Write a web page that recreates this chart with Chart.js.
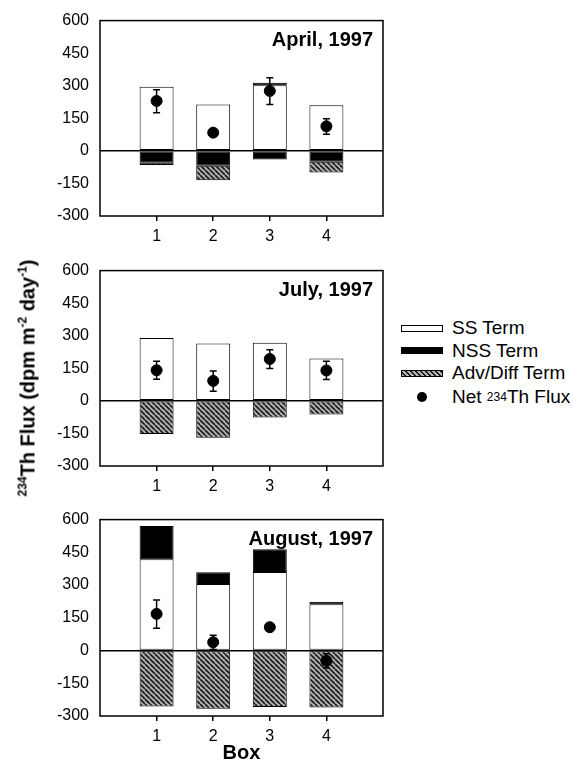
<!DOCTYPE html>
<html>
<head>
<meta charset="utf-8">
<script src="https://cdn.jsdelivr.net/npm/chart.js@4"></script>
<style>
  body { margin: 0; background: #fff; font-family: "Liberation Sans", Arial, sans-serif; color: #000; }
  #wrap { position: relative; width: 573px; height: 763px; overflow: hidden; }
  canvas { position: absolute; left: 0; }
  #ylab { position: absolute; left: 28px; top: 378px; transform: translate(-50%, -50%) rotate(-90deg);
          font-weight: bold; font-size: 20px; white-space: nowrap; }
  sup { font-size: 12px; vertical-align: 8px; line-height: 0; }
  #legend { position: absolute; left: 401px; top: 317px; font-size: 19px; }
  .row { display: flex; align-items: center; height: 22.5px; white-space: nowrap; }
  .sw { width: 42px; height: 7px; box-sizing: border-box; border: 1px solid #000; margin-right: 9px; flex: none; }
  .dotcell { width: 42px; margin-right: 9px; display: flex; justify-content: center; flex: none; }
  .dot { width: 10px; height: 10px; border-radius: 50%; background: #000; }
</style>
</head>
<body>
<div id="wrap">
  <canvas id="c1" width="390" height="250" style="top:0px"></canvas>
  <canvas id="c2" width="390" height="250" style="top:250px"></canvas>
  <canvas id="c3" width="390" height="264" style="top:499px"></canvas>
  <div id="ylab"><sup>234</sup>Th Flux (dpm m<sup>-2</sup> day<sup>-1</sup>)</div>
  <div id="legend">
    <div class="row"><div class="sw" style="background:#fff"></div>SS Term</div>
    <div class="row"><div class="sw" style="background:#000"></div>NSS Term</div>
    <div class="row"><div class="sw" style="background:repeating-linear-gradient(45deg,#b0b0b0 0 2px,#1a1a1a 2px 3.5px)"></div>Adv/Diff Term</div>
    <div class="row" style="height:25px"><div class="dotcell"><div class="dot"></div></div>Net&nbsp;<sup>234</sup>Th Flux</div>
  </div>
</div>
<script>
const boxes = [1, 2, 3, 4];
const yTickValues = [-300, -150, 0, 150, 300, 450, 600];
const panelTitles = ['April, 1997', 'July, 1997', 'August, 1997'];

// April
const aprilSS = [295, 213, 302, 210];
const aprilNSS = [-55, -69, -40, -50];
const aprilNSSTop = [0, 0, 12, 0];
const aprilAdv = [-10, -66, 0, -50];
const aprilNet = [230, 84, 276, 113];
const aprilErrLow = [176, null, 213, 77];
const aprilErrHigh = [282, null, 337, 148];

// July
const julySS = [290, 264, 268, 195];
const julyNSS = [0, 0, 0, 0];
const julyAdv = [-153, -170, -77, -63];
const julyNet = [141, 92, 193, 140];
const julyErrLow = [100, 44, 149, 98];
const julyErrHigh = [182, 138, 236, 183];

// August
const augustSS = [418, 305, 360, 212];
const augustNSS = [153, 54, 104, 12];
const augustAdv = [-256, -267, -259, -261];
const augustNet = [168, 38, 107, -47];
const augustErrLow = [102, 5, null, -80];
const augustErrHigh = [232, 70, null, -15];

Chart.defaults.font.family = '"Liberation Sans", Arial, sans-serif';
Chart.defaults.color = '#000';

function hatch() {
  const c = document.createElement('canvas');
  c.width = c.height = 5;
  const g = c.getContext('2d');
  g.fillStyle = '#b0b0b0';
  g.fillRect(0, 0, 5, 5);
  g.strokeStyle = '#1a1a1a';
  g.lineWidth = 1.6;
  g.beginPath();
  for (const k of [-5, 0, 5]) { g.moveTo(k, 0); g.lineTo(k + 5, 5); }
  g.stroke();
  return g.createPattern(c, 'repeat');
}

const panelText = {
  id: 'panelText',
  afterDraw(chart, args, opts) {
    const { ctx, chartArea: a } = chart;
    ctx.save();
    ctx.strokeStyle = '#000';
    ctx.lineWidth = 1.5;
    ctx.strokeRect(a.left, a.top, a.right - a.left, a.bottom - a.top);
    ctx.font = 'bold 20px "Liberation Sans", Arial, sans-serif';
    ctx.fillStyle = '#000';
    ctx.textAlign = 'right';
    ctx.textBaseline = 'middle';
    ctx.fillText(opts.text, a.right - 10, a.top + 20);
    ctx.restore();
  }
};

const errorBars = {
  id: 'errorBars',
  afterDatasetsDraw(chart, args, opts) {
    const { ctx, scales: { x, y } } = chart;
    ctx.save();
    ctx.strokeStyle = '#000';
    ctx.lineWidth = 1.5;
    boxes.forEach((b, i) => {
      if (opts.low[i] == null) return;
      const px = x.getPixelForValue(b);
      const lo = y.getPixelForValue(opts.low[i]);
      const hi = y.getPixelForValue(opts.high[i]);
      ctx.beginPath();
      ctx.moveTo(px, lo); ctx.lineTo(px, hi);
      ctx.moveTo(px - 3.5, lo); ctx.lineTo(px + 3.5, lo);
      ctx.moveTo(px - 3.5, hi); ctx.lineTo(px + 3.5, hi);
      ctx.stroke();
    });
    ctx.restore();
  }
};

function makePanel(id, p) {
  // zero terms are left out so no empty bar gets drawn
  const bars = (label, vals, color) => ({
    type: 'bar',
    label,
    stack: 'flux',
    order: 1,
    data: boxes.map((b, i) => ({ x: b, y: vals[i] === 0 ? null : vals[i] })),
    backgroundColor: color,
    borderColor: '#000',
    borderWidth: 1,
    borderSkipped: false,
    categoryPercentage: 1,
    barPercentage: 0.6
  });

  new Chart(document.getElementById(id), {
    type: 'bar',
    data: {
      datasets: [
        bars('SS Term', p.ss, '#fff'),
        bars('NSS Term', p.nss, '#000'),
        bars('Adv/Diff Term', p.adv, hatch()),
        bars('NSS Term', p.nssTop || boxes.map(() => 0), '#000'),
        {
          type: 'scatter',
          label: 'Net 234Th Flux',
          stack: 'net',
          order: 0,
          data: boxes.map((b, i) => ({ x: b, y: p.net[i] })),
          pointRadius: 5.5,
          backgroundColor: '#000',
          borderColor: '#000'
        }
      ]
    },
    options: {
      responsive: false,
      animation: false,
      layout: { padding: { top: 20, right: 7, left: 0, bottom: 0 } },
      plugins: {
        legend: { display: false },
        tooltip: { enabled: false },
        panelText: { text: p.title },
        errorBars: { low: p.errLow, high: p.errHigh }
      },
      scales: {
        x: {
          type: 'linear',
          min: 0,
          max: 5,
          offset: false,
          stacked: true,
          afterBuildTicks: s => { s.ticks = boxes.map(v => ({ value: v })); },
          afterFit: s => { s.height = p.xTitle ? 47 : 34; },
          grid: { offset: false, drawOnChartArea: false, drawTicks: true, tickLength: 5, color: '#000', lineWidth: 1.5 },
          border: { display: false },
          ticks: { font: { size: 16 }, padding: 6, maxRotation: 0 },
          title: { display: !!p.xTitle, text: p.xTitle || '', font: { size: 20, weight: 'bold', lineHeight: 1 }, padding: 0 }
        },
        y: {
          min: -300,
          max: 600,
          stacked: true,
          afterBuildTicks: s => { s.ticks = yTickValues.map(v => ({ value: v })); },
          afterFit: s => { s.width = 100; },
          grid: {
            drawTicks: false,
            color: c => (c.tick && c.tick.value === 0 ? '#000' : 'rgba(0,0,0,0)'),
            lineWidth: 1.5
          },
          border: { display: false },
          ticks: { font: { size: 16 }, padding: 11 }
        }
      }
    },
    plugins: [panelText, errorBars]
  });
}

makePanel('c1', { title: panelTitles[0], ss: aprilSS, nss: aprilNSS, nssTop: aprilNSSTop, adv: aprilAdv,
  net: aprilNet, errLow: aprilErrLow, errHigh: aprilErrHigh });
makePanel('c2', { title: panelTitles[1], ss: julySS, nss: julyNSS, adv: julyAdv,
  net: julyNet, errLow: julyErrLow, errHigh: julyErrHigh });
makePanel('c3', { title: panelTitles[2], ss: augustSS, nss: augustNSS, adv: augustAdv,
  net: augustNet, errLow: augustErrLow, errHigh: augustErrHigh, xTitle: 'Box' });
</script>
</body>
</html>
